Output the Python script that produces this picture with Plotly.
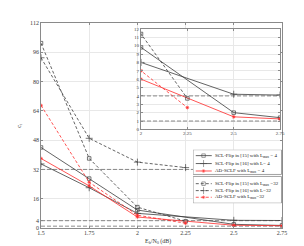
import plotly.graph_objects as go

# ---------------- data ----------------
X_TICKS = [1.5, 1.75, 2.0, 2.25, 2.5, 2.75]
X_TICK_TEXT = ["1.5", "1.75", "2", "2.25", "2.5", "2.75"]
Y_TICKS = [0, 4, 16, 32, 48, 64, 80, 96, 112]

X_L4 = [1.5, 1.75, 2.0, 2.5, 2.75]
X_L32 = [1.5, 1.75, 2.0, 2.25]

flip15_L4 = [44, 27, 9.8, 2.0, 1.4]
flip16_L4 = [35, 22, 8.0, 4.2, 4.1]
adsclf_L4 = [38, 23, 6.0, 1.5, 1.25]

flip15_L32 = [101, 38, 11.4, 3.7]
flip16_L32 = [93, 49, 36, 33]
adsclf_L32 = [67, 25, 7.0, 2.6]

REF_LEVELS_MAIN = [32, 4, 1]
REF_LEVELS_INSET = [4, 1]

LEGEND_LABELS = [
    "SCL-Flip in [15] with L<sub>max</sub> = 4",
    "SCL-Flip in [16] with L= 4",
    "AD-SCLF with L<sub>max</sub> = 4",
    "SCL-Flip in [15] with L<sub>max</sub> =32",
    "SCL-Flip in [16] with L=32",
    "AD-SCLF with L<sub>max</sub>=32",
]

# ---------------- styles ----------------
FONT = "Liberation Serif"
DARK = "#3c3c3c"
RED = "#ff2a2a"
REFC = "#6e6e6e"
FRAME = "#8a8a8a"
GRID = "#e8e8e8"
TXT = "#3a3a3a"

series = [
    dict(x=X_L4, y=flip15_L4, color=DARK, dash="solid", symbol="square-open", size=3.5),
    dict(x=X_L4, y=flip16_L4, color=DARK, dash="solid", symbol="cross-thin", size=5),
    dict(x=X_L4, y=adsclf_L4, color=RED, dash="solid", symbol="asterisk-open", size=3),
    dict(x=X_L32, y=flip15_L32, color=DARK, dash="3px,2px", symbol="square-open", size=3.5),
    dict(x=X_L32, y=flip16_L32, color=DARK, dash="3px,2px", symbol="cross-thin", size=5),
    dict(x=X_L32, y=adsclf_L32, color=RED, dash="3px,2px", symbol="asterisk-open", size=3),
]

fig = go.Figure()

# reference (dashed horizontal) levels
for lv in REF_LEVELS_MAIN:
    fig.add_trace(go.Scatter(x=[X_TICKS[0], X_TICKS[-1]], y=[lv, lv], mode="lines",
                             line=dict(color=REFC, width=0.8, dash="4px,2px"),
                             showlegend=False, xaxis="x", yaxis="y", hoverinfo="skip"))
for lv in REF_LEVELS_INSET:
    fig.add_trace(go.Scatter(x=[X_TICKS[2], X_TICKS[-1]], y=[lv, lv], mode="lines",
                             line=dict(color=REFC, width=0.8, dash="4px,2px"),
                             showlegend=False, xaxis="x2", yaxis="y2", hoverinfo="skip"))

for ax in (("x", "y"), ("x2", "y2")):
    for s in series:
        fig.add_trace(go.Scatter(
            x=s["x"], y=s["y"], mode="lines+markers",
            line=dict(color=s["color"], width=0.8, dash=s["dash"]),
            marker=dict(symbol=s["symbol"], size=s["size"], color=s["color"],
                        line=dict(color=s["color"], width=0.7)),
            showlegend=False, xaxis=ax[0], yaxis=ax[1]))

# ---------------- custom compact legend (own small axes) ----------------
ROW_Y = [6, 14, 21.5, 34.3, 41.3, 48]
for s, ry in zip(series, ROW_Y):
    fig.add_trace(go.Scatter(
        x=[2.7, 10.5, 18.7], y=[ry, ry, ry], mode="lines+markers",
        line=dict(color=s["color"], width=0.8, dash=s["dash"]),
        marker=dict(symbol=s["symbol"], size=[0, s["size"], 0], color=s["color"],
                    line=dict(color=s["color"], width=0.7)),
        showlegend=False, xaxis="x3", yaxis="y3", hoverinfo="skip"))

annotations = []
for lab, ry in zip(LEGEND_LABELS, ROW_Y):
    annotations.append(dict(x=19.7, y=ry, xref="x3", yref="y3", text=lab, showarrow=False,
                            xanchor="left", yanchor="middle",
                            font=dict(family=FONT, size=5, color="#222")))
# axis titles as annotations for exact placement
annotations.append(dict(x=0.485, y=-0.068, xref="paper", yref="paper",
                        text="E<sub>b</sub>/N<sub>0</sub> (dB)", showarrow=False,
                        xanchor="center", yanchor="middle",
                        font=dict(family=FONT, size=6, color=TXT)))
annotations.append(dict(x=-0.09, y=0.5, xref="paper", yref="paper",
                        text="c<sub>t</sub>", showarrow=False, textangle=-90,
                        xanchor="center", yanchor="middle",
                        font=dict(family=FONT, size=6, color=TXT)))

shapes = [
    dict(type="rect", xref="x3", yref="y3", x0=0, x1=88.5, y0=0, y1=25,
         line=dict(color=FRAME, width=0.8), fillcolor="white", layer="below"),
    dict(type="rect", xref="x3", yref="y3", x0=0, x1=88.5, y0=27, y1=54,
         line=dict(color=FRAME, width=0.8), fillcolor="white", layer="below"),
]

axis_common = dict(showline=True, linecolor=FRAME, linewidth=0.8, mirror="ticks",
                   ticks="inside", ticklen=2, tickcolor=FRAME, tickwidth=0.6,
                   showgrid=True, gridcolor=GRID, gridwidth=0.6, zeroline=False)

fig.update_layout(
    width=304, height=246, autosize=False,
    margin=dict(l=33, r=30, t=13, b=26),
    paper_bgcolor="white", plot_bgcolor="white",
    font=dict(family=FONT, color=TXT),
    showlegend=False,
    xaxis=dict(range=[1.5, 2.75], tickvals=X_TICKS, ticktext=X_TICK_TEXT,
               tickfont=dict(family=FONT, size=6, color=TXT), domain=[0, 1], anchor="y",
               ticklabelstandoff=-1, **axis_common),
    yaxis=dict(range=[0, 112], tickvals=Y_TICKS, tickfont=dict(family=FONT, size=6, color=TXT),
               domain=[0, 1], anchor="x", **axis_common),
    xaxis2=dict(range=[2, 2.75], tickvals=X_TICKS[2:], ticktext=X_TICK_TEXT[2:],
                tickfont=dict(family=FONT, size=5, color=TXT), domain=[0.415, 0.992], anchor="y2",
                ticklabelstandoff=-1, **axis_common),
    yaxis2=dict(range=[0, 12], dtick=1, tickfont=dict(family=FONT, size=5, color=TXT),
                domain=[0.481, 0.971], anchor="x2", **axis_common),
    xaxis3=dict(range=[0, 89], domain=[0.631, 1.0], anchor="y3", visible=False, fixedrange=True),
    yaxis3=dict(range=[54, 0], domain=[0.121, 0.382], anchor="x3", visible=False, fixedrange=True),
    annotations=annotations,
    shapes=shapes,
)

fig.write_html("out.html")
